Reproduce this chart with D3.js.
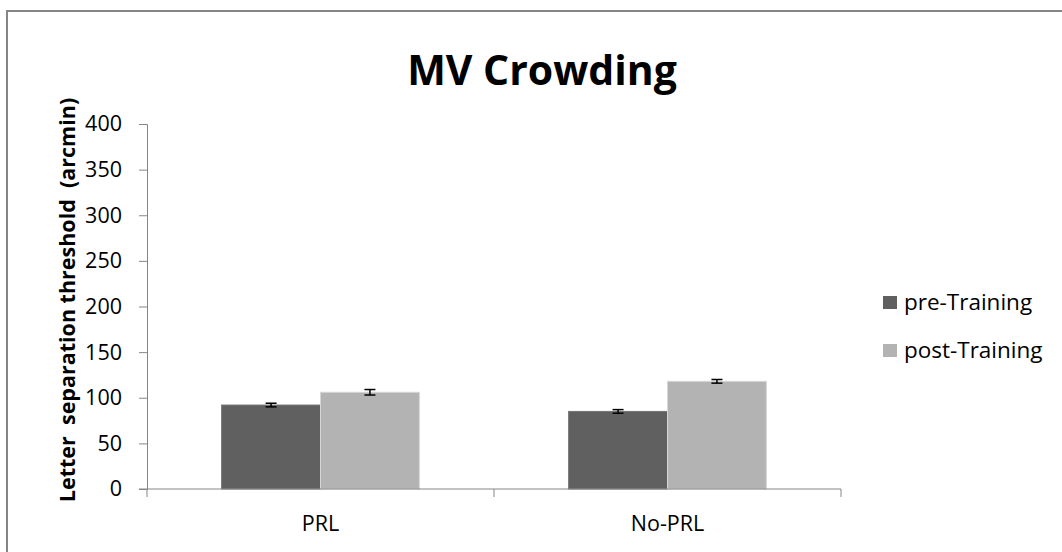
<!DOCTYPE html>
<html><head><meta charset="utf-8">
<script src="https://d3js.org/d3.v7.min.js"></script>
<style>body{margin:0;background:#fff}svg{display:block}text{font-family:"Open Sans",sans-serif}</style>
</head><body>
<svg id="c" width="1062" height="552"></svg>
<script>
const categories = ["PRL", "No-PRL"];
const seriesNames = ["pre-Training", "post-Training"];
const preValues = [92, 85];
const postValues = [106, 118];
const preErrors = [2, 2];
const postErrors = [3, 2];
const yTicks = [0, 50, 100, 150, 200, 250, 300, 350, 400];
const colors = ["#606060", "#b3b3b3"];
const FONT = "'Open Sans',sans-serif";

const svg = d3.select("#c");
svg.append("rect").attr("x", 7).attr("y", 11).attr("width", 1070).attr("height", 560)
  .attr("fill", "#fff").attr("stroke", "#868686").attr("stroke-width", 2);

const x0 = d3.scaleBand().domain(categories).range([147, 841]).paddingInner(0).paddingOuter(0);
const x1 = d3.scaleBand().domain(seriesNames).range([0, x0.bandwidth()]).paddingInner(0).paddingOuter(0.7548);
const y = d3.scaleLinear().domain([0, 400]).range([489, 124]);

svg.append("text").attr("x", 542).attr("y", 85).attr("text-anchor", "middle")
  .attr("font-size", 41).attr("font-weight", "bold").attr("fill", "#000").attr("font-family", FONT).text("MV Crowding");

const yAxis = svg.append("g").attr("transform", "translate(147,0)")
  .call(d3.axisLeft(y).tickValues(yTicks).tickSize(8).tickPadding(17));
yAxis.attr("font-family", FONT);
yAxis.select(".domain").attr("stroke", "#868686");
yAxis.selectAll(".tick line").attr("stroke", "#868686");
yAxis.selectAll(".tick text").attr("font-size", 21.5).attr("fill", "#000");

const data = categories.map((c, i) => ({c, vals: [
  {s: seriesNames[0], v: preValues[i], e: preErrors[i], col: colors[0]},
  {s: seriesNames[1], v: postValues[i], e: postErrors[i], col: colors[1]}]}));

const g = svg.selectAll("g.cat").data(data).enter().append("g")
  .attr("transform", d => `translate(${x0(d.c)},0)`);
g.selectAll("rect").data(d => d.vals).enter().append("rect")
  .attr("x", d => x1(d.s)).attr("width", x1.bandwidth())
  .attr("y", d => y(d.v)).attr("height", d => y(0) - y(d.v))
  .attr("fill", d => d.col).attr("stroke", d => d3.color(d.col).brighter(0.5)).attr("stroke-width", 1);
const eb = g.selectAll("g.eb").data(d => d.vals).enter().append("g");
eb.append("line").attr("x1", d => x1(d.s) + x1.bandwidth()/2).attr("x2", d => x1(d.s) + x1.bandwidth()/2)
  .attr("y1", d => y(d.v + d.e)).attr("y2", d => y(d.v - d.e)).attr("stroke", "#000").attr("stroke-width", 1.5);
[1, -1].forEach(sg => {
  eb.append("line").attr("x1", d => x1(d.s) + x1.bandwidth()/2 - 5.5).attr("x2", d => x1(d.s) + x1.bandwidth()/2 + 5.5)
    .attr("y1", d => y(d.v + sg*d.e)).attr("y2", d => y(d.v + sg*d.e)).attr("stroke", "#000").attr("stroke-width", 1.5);
});

svg.append("line").attr("x1", 139).attr("x2", 841).attr("y1", 489).attr("y2", 489).attr("stroke", "#868686");
[147, 494, 841].forEach(xx => svg.append("line").attr("x1", xx).attr("x2", xx).attr("y1", 489).attr("y2", 497).attr("stroke", "#868686"));
categories.forEach(c => svg.append("text").attr("x", x0(c) + x0.bandwidth()/2).attr("y", 531)
  .attr("text-anchor", "middle").attr("font-size", 21.5).attr("fill", "#000").attr("font-family", FONT).text(c));

svg.append("text").attr("transform", "translate(75,300) rotate(-90)").attr("text-anchor", "middle")
  .attr("font-size", 21.5).attr("font-weight", "bold").attr("fill", "#000").attr("font-family", FONT)
  .style("white-space", "pre").text("Letter  separation threshold  (arcmin)");

const leg = svg.selectAll("g.leg").data(seriesNames).enter().append("g")
  .attr("transform", (d, i) => `translate(883,${296 + i*48})`);
leg.append("rect").attr("width", 14).attr("height", 13).attr("fill", (d, i) => colors[i]);
leg.append("text").attr("x", 21).attr("y", 14).attr("font-size", 22.5).attr("fill", "#000").attr("font-family", FONT).text(d => d);
</script>
</body></html>
